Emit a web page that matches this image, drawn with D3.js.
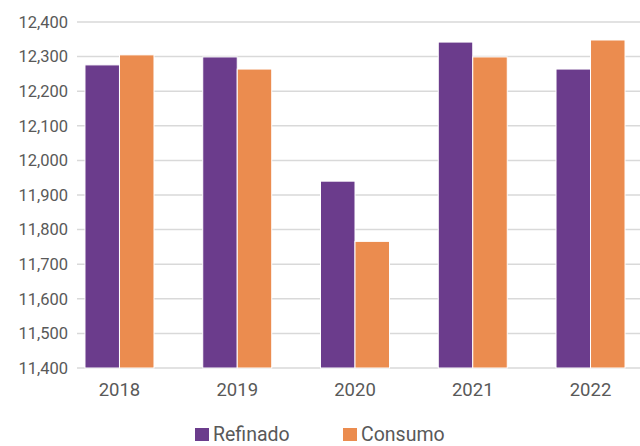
<!DOCTYPE html>
<html>
<head>
<meta charset="utf-8">
<script src="https://cdn.jsdelivr.net/npm/d3@7"></script>
<style>
  body { margin: 0; background: #fff; }
  svg { display: block; font-family: Roboto, "Noto Sans", sans-serif; }
</style>
</head>
<body>
<div id="chart"></div>
<script>
const years = ["2018", "2019", "2020", "2021", "2022"];
const seriesNames = ["Refinado", "Consumo"];
const refinado = [12276, 12299, 11940, 12342, 12264];
const consumo = [12305, 12264, 11766, 12299, 12348];
const yTicks = [11400, 11500, 11600, 11700, 11800, 11900, 12000, 12100, 12200, 12300, 12400];
const colors = ["#6b3c8c", "#eb8c4f"];

const width = 640, height = 446;
const plot = { left: 77, right: 640, top: 22, bottom: 368 };

const svg = d3.select("#chart").append("svg")
  .attr("width", width)
  .attr("height", height);

const y = d3.scaleLinear()
  .domain([11400, 12400])
  .range([plot.bottom, plot.top]);

// plot area is wider than the window on the right
const x = d3.scaleBand()
  .domain(years)
  .range([60.6, 649.4]);

const x1 = d3.scaleBand()
  .domain(seriesNames)
  .range([-34.5, 34.5]);

// gridlines
svg.append("g")
  .selectAll("line")
  .data(yTicks)
  .join("line")
  .attr("x1", plot.left)
  .attr("x2", plot.right)
  .attr("y1", (d) => y(d))
  .attr("y2", (d) => y(d))
  .attr("stroke", "#d9d9d9")
  .attr("stroke-width", 1.5);

// y labels
svg.append("g")
  .selectAll("text")
  .data(yTicks)
  .join("text")
  .attr("x", 68)
  .attr("y", (d) => y(d))
  .attr("dy", "0.35em")
  .attr("text-anchor", "end")
  .attr("fill", "#595959")
  .style("font-size", "16.5px")
  .text((d) => d3.format(",")(d));

const rows = years.map((yr, i) => ({
  year: yr,
  values: [
    { key: "Refinado", value: refinado[i] },
    { key: "Consumo", value: consumo[i] }
  ]
}));

const groups = svg.append("g")
  .selectAll("g")
  .data(rows)
  .join("g")
  .attr("transform", (d) => `translate(${x(d.year) + x.bandwidth() / 2},0)`);

groups.selectAll("rect")
  .data((d) => d.values)
  .join("rect")
  .attr("x", (d) => x1(d.key))
  .attr("y", (d) => y(d.value))
  .attr("width", x1.bandwidth())
  .attr("height", (d) => y(11400) - y(d.value))
  .attr("fill", (d, i) => colors[i])
  .attr("stroke", "#fff")
  .attr("stroke-width", 1);

// x labels
svg.append("g")
  .selectAll("text")
  .data(years)
  .join("text")
  .attr("x", (d) => x(d) + x.bandwidth() / 2)
  .attr("y", 396)
  .attr("text-anchor", "middle")
  .attr("fill", "#595959")
  .style("font-size", "18.5px")
  .text((d) => d);

// legend
const legendX = [195, 343];
const legend = svg.append("g")
  .selectAll("g")
  .data(seriesNames)
  .join("g")
  .attr("transform", (d, i) => `translate(${legendX[i]},0)`);

legend.append("rect")
  .attr("x", 0)
  .attr("y", 428)
  .attr("width", 14)
  .attr("height", 13)
  .attr("fill", (d, i) => colors[i]);

legend.append("text")
  .attr("x", 18)
  .attr("y", 441)
  .attr("fill", "#595959")
  .style("font-size", "19.5px")
  .text((d) => d);
</script>
</body>
</html>
